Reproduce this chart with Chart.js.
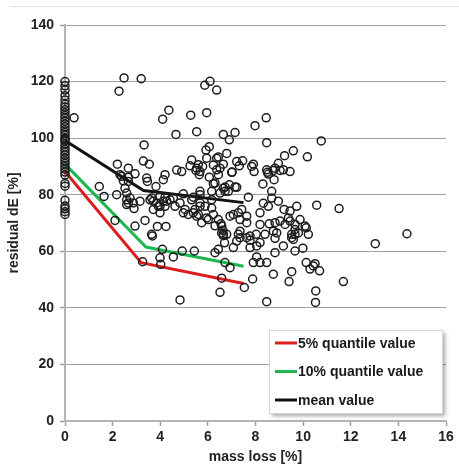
<!DOCTYPE html>
<html>
<head>
<meta charset="utf-8">
<script src="https://cdn.jsdelivr.net/npm/chart.js@4.4.1/dist/chart.umd.min.js"></script>
<style>
html, body { margin: 0; padding: 0; background: #fff; }
#wrap { position: relative; width: 459px; height: 469px; }
#topline { position: absolute; left: 10px; right: 0; top: 6px; height: 1px; background: #e2e2e2; }
canvas { position: absolute; left: 0; top: 0; }
</style>
</head>
<body>
<div id="wrap">
  <div id="topline"></div>
  <canvas id="chart" width="459" height="469"></canvas>
</div>
<script>
// samples at zero mass loss (stacked column on the y axis)
const zeroLossDE = [120, 118.5, 117, 115, 113.5, 112, 111, 110, 109, 108, 107, 106, 105, 104, 103,
  102, 101, 100, 99.5, 99, 98, 97, 96, 95, 94, 93, 92, 91, 90, 89, 88, 87, 84, 83, 78, 76, 75, 74, 73];

// remaining samples: mass loss [%] and residual dE [%]
const massLoss = [
  0.38, 2.48, 3.2, 2.27, 4.1, 4.36, 5.28, 5.95, 5.53, 4.66, 5.87, 6.09, 6.37, 6.65, 3.32, 6.06, 5.92, 6.79,
  3.29, 3.54, 2.2, 2.66, 2.94, 5.32, 5.6, 5.67, 6.37, 6.51, 6.44, 4.69, 4.2, 4.13, 3.43, 3.82, 2.31, 2.66,
  2.59, 2.73, 1.44, 1.64, 2.17, 3.15, 2.59, 2.9, 3.64, 3.99, 4.27, 3.85, 3.71, 4.2, 4.97, 5.39, 5.67, 4.97,
  5.18, 5.53, 5.67, 6.16, 5.95, 5.74, 2.1, 3.36, 2.94, 3.88, 4.24, 3.64, 6.55, 6.63, 6.65, 7.98, 8.45, 7.14,
  6.9, 8.47, 10.76, 9.59, 9.22, 10.18, 6.65, 7.21, 7.46, 7.91, 7.94, 7.02, 8.47, 8.82, 8.96, 9.17, 9.45, 8.54,
  8.78, 8.31, 8.68, 7.21, 6.9, 6.72, 7.7, 8.33, 8.54, 8.96, 9.2, 9.45, 9.73, 10.57, 11.51, 8.19, 7.07, 7.42,
  7.35, 7.63, 8.19, 8.58, 8.75, 9.24, 9.45, 9.87, 9.66, 10.13, 10.22, 6.3, 6.79, 7.28, 7.77, 8.03, 8.82, 9.52,
  14.36, 13.03, 8.82, 9.99, 7.91, 8.19, 8.47, 8.05, 10.13, 10.5, 10.29, 10.69, 9.52, 8.75, 7.88, 9.41, 11.69,
  10.53, 8.47, 10.52, 7.53, 6.51, 6.93, 7.77, 6.7, 7.35, 9.66, 3.67, 3.26, 4.02, 3.99, 4.09, 4.55, 4.92, 5.43,
  4.83, 6.3, 6.44, 6.58, 6.72, 9.66, 6.16, 6.65, 5.04, 5.39, 6.02, 6.23, 7.63, 9.03, 9.38, 6.58, 6.58, 7.35,
  8.19, 9.17, 8.05, 9.59, 9.8, 7.07, 2.59, 2.87, 3.57, 3.92, 4.13, 4.41, 4.62, 3.99, 5.95, 6.44, 5.25, 5.5,
  5.78, 5.64, 6.06, 6.37, 7.0, 7.32, 8.5, 8.75, 9.03, 4.9, 6.23, 6.72, 7.14, 5.67, 2.38, 2.66, 3.46, 10.08,
  5.53, 6.23, 6.86, 6.51, 5.67, 5.88, 6.16, 5.6, 6.44, 6.65, 6.93, 7.28, 7.63, 7.21, 8.68, 8.82, 9.66, 9.52,
  8.89, 8.4, 7.77, 2.45, 2.52, 2.66, 3.71, 3.99, 4.2, 4.55, 4.83, 5.32, 5.46, 7.84, 6.3, 10.43
];
const residualDE = [
  107.2, 121.3, 121, 116.6, 106.7, 109.9, 108.1, 109, 102.3, 101.3, 118.7, 120.1, 117, 101.3, 97.6, 97, 95.8, 94.6,
  91.9, 90.8, 90.8, 89.4, 87.4, 92.3, 90.6, 88.2, 92.9, 89.4, 87.1, 88.7, 87.1, 85.3, 85.9, 82.9, 87.1, 84.7,
  80.6, 78.8, 82.9, 79.4, 80, 77.7, 76.5, 75.1, 78.8, 79.4, 77.7, 77.1, 74.8, 75.9, 80.3, 79.1, 80, 73.6,
  73, 72.4, 75.9, 75.3, 71.8, 70.1, 70.9, 70.9, 68.9, 68.8, 68.8, 66, 69.7, 67.4, 65.5, 104.4, 107.2, 102,
  99.4, 98.4, 99, 95.5, 93.8, 93.4, 90.8, 91.7, 92, 90.8, 88.2, 88, 88.8, 89.4, 91.1, 88.8, 88.2, 87.3,
  85.3, 83.8, 81.2, 82.6, 83.5, 81.2, 79.1, 77, 75.9, 77.7, 74.8, 74.2, 75.9, 76.3, 75.1, 73.6, 73, 74.8,
  71.2, 70.1, 69.5, 69.7, 67.1, 69.5, 70.7, 71.2, 67.7, 68.3, 66, 69, 66, 66, 65.4, 66, 64.6, 66,
  66.2, 62.7, 59.5, 61.1, 56, 56, 56, 58, 56, 55.6, 53.7, 53.1, 52.8, 51.9, 50.2, 49.3, 49.3,
  46, 42.2, 41.9, 47.2, 45.5, 54.2, 63.9, 63, 64.8, 66, 65.4, 56.3, 55.4, 57.7, 60.7, 58, 60.1, 60.1,
  42.8, 59.5, 60.7, 50.5, 56, 60.1, 81.2, 82.3, 74.8, 73.6, 71.2, 73, 72.4, 70.7, 71.8, 68.9, 66.5, 67.1,
  63.1, 61.9, 61.9, 64.2, 66.5, 61.3, 78.2, 77.1, 78.2, 75.9, 77.7, 78.2, 75.9, 73.6, 92.9, 93.3, 90.2, 88.6,
  90, 87.1, 86.2, 88.8, 87.9, 90.2, 87.9, 88.6, 88.6, 88.2, 83.9, 82.7, 82.7, 81.2, 86.5, 86.2, 84.7, 68.9,
  89.4, 90.5, 81.2, 80.6, 77.1, 75.9, 78.2, 73, 71.2, 66, 72.4, 73.6, 64.8, 63.6, 78.8, 70.1, 69.5, 64.8,
  66.5, 66, 61.3, 84.9, 82.3, 77.1, 77.7, 75.9, 79.1, 78.8, 77.1, 78.2, 74.8, 90, 84.1, 54.8
];

// quantile and mean curves
const q5Loss = [0, 3.2, 7.5];
const q5DE = [88.2, 56, 48.6];
const q10Loss = [0, 3.4, 7.5];
const q10DE = [90.8, 61.5, 54.7];
const meanLoss = [0, 3.3, 7.5];
const meanDE = [99.2, 81.5, 77.2];

const xTicks = [0, 2, 4, 6, 8, 10, 12, 14, 16];
const yTicks = [0, 20, 40, 60, 80, 100, 120, 140];

const pts = (xs, ys) => xs.map((x, i) => ({ x: x, y: ys[i] }));
const samples = zeroLossDE.map(v => ({ x: 0, y: v })).concat(pts(massLoss, residualDE));

const legendBox = {
    id: 'legendBox',
    afterDraw(chart) {
        const ctx = chart.ctx;
        const area = chart.chartArea;
        const x0 = area.right - 177;
        const y0 = area.bottom - 91;
        const w = 173, h = 83;
        ctx.save();
        ctx.shadowColor = 'rgba(0,0,0,0.35)';
        ctx.shadowOffsetX = 3;
        ctx.shadowOffsetY = 3;
        ctx.shadowBlur = 4;
        ctx.fillStyle = '#fff';
        ctx.fillRect(x0, y0, w, h);
        ctx.shadowColor = 'transparent';
        ctx.strokeStyle = '#d6d6d6';
        ctx.lineWidth = 1;
        ctx.strokeRect(x0 + 0.5, y0 + 0.5, w, h);
        ctx.font = 'bold 14px "Liberation Sans", Arial, sans-serif';
        ctx.textBaseline = 'middle';
        ctx.fillStyle = '#1a1a1a';
        const lines = chart.data.datasets.filter(d => d.showLine);
        lines.forEach((d, i) => {
            const y = y0 + 13 + i * 28.5;
            ctx.strokeStyle = d.borderColor;
            ctx.lineWidth = 3;
            ctx.beginPath();
            ctx.moveTo(x0 + 6, y);
            ctx.lineTo(x0 + 28, y);
            ctx.stroke();
            ctx.fillText(d.label, x0 + 29, y + 1);
        });
        ctx.restore();
    }
};

const tickFont = { family: '"Liberation Sans", Arial, sans-serif', size: 14, weight: 'bold' };

new Chart(document.getElementById('chart'), {
    type: 'scatter',
    data: {
        datasets: [
            {
                label: 'samples',
                data: samples,
                clip: false,
                pointRadius: 4,
                pointHoverRadius: 4,
                pointBorderWidth: 1.5,
                pointBorderColor: '#1c1c1c',
                pointBackgroundColor: 'rgba(0,0,0,0)',
            },
            {
                label: '5% quantile value',
                data: pts(q5Loss, q5DE),
                showLine: true,
                clip: false,
                borderColor: '#dd1c1c',
                borderWidth: 3,
                pointRadius: 0,
            },
            {
                label: '10% quantile value',
                data: pts(q10Loss, q10DE),
                showLine: true,
                clip: false,
                borderColor: '#1fb650',
                borderWidth: 3,
                pointRadius: 0,
            },
            {
                label: 'mean value',
                data: pts(meanLoss, meanDE),
                showLine: true,
                clip: false,
                borderColor: '#111111',
                borderWidth: 3,
                pointRadius: 0,
            },
        ],
    },
    options: {
        responsive: false,
        animation: false,
        events: [],
        layout: { padding: { top: 25, right: 13, left: 0, bottom: 0 } },
        plugins: { legend: { display: false }, tooltip: { enabled: false } },
        scales: {
            x: {
                type: 'linear',
                min: 0,
                max: 16,
                afterBuildTicks: (s) => { s.ticks = xTicks.map(v => ({ value: v })); },
                afterFit: (s) => { s.height = 48; },
                ticks: { font: tickFont, color: '#222', padding: 3, maxRotation: 0 },
                grid: { drawOnChartArea: false, drawTicks: true, tickLength: 5, tickColor: '#a0a0a0', tickWidth: 1.5 },
                border: { color: '#b4b4b4', width: 2 },
                title: { display: true, text: 'mass loss [%]', font: tickFont, color: '#222', padding: { top: 0, bottom: 3 } },
            },
            y: {
                min: 0,
                max: 140,
                afterBuildTicks: (s) => { s.ticks = yTicks.map(v => ({ value: v })); },
                afterFit: (s) => { s.width = 65; },
                ticks: { font: tickFont, color: '#222', padding: 6 },
                grid: {
                    color: '#a0a0a0',
                    lineWidth: 1,
                    borderDash: [10, 3, 2, 3],
                    tickBorderDash: [],
                    tickLength: 5,
                    tickColor: '#a0a0a0',
                    tickWidth: 1.5,
                },
                border: { color: '#b4b4b4', width: 2 },
                title: { display: true, text: 'residual dE [%]', font: tickFont, color: '#222', padding: { top: 6, bottom: 0 } },
            },
        },
    },
    plugins: [legendBox],
});
</script>
</body>
</html>
